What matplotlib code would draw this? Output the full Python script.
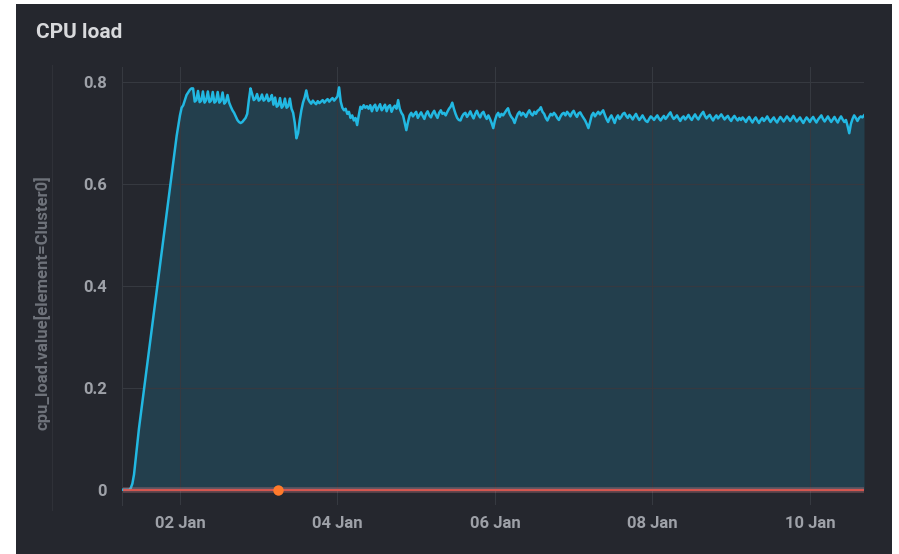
import matplotlib
matplotlib.use("Agg")
import matplotlib.pyplot as plt
from matplotlib.patches import Rectangle
from matplotlib.lines import Line2D
import pandas as pd
import numpy as np

plt.rcParams['font.family'] = ['Roboto', 'DejaVu Sans']

# ---- data (30-minute samples starting 01 Jan 06:30) ----
start_time = "2024-01-01 06:30"
sample_freq = "30min"

ramp = [0, 0, 0, 0, 0, 0.003, 0.012, 0.03, 0.06, 0.09, 0.12, 0.145, 0.17, 0.195, 0.22,
        0.245, 0.27, 0.295, 0.32, 0.345, 0.37, 0.395, 0.42, 0.445, 0.47, 0.495, 0.52,
        0.545, 0.57, 0.595, 0.62, 0.645, 0.67, 0.695, 0.715, 0.735, 0.75, 0.755, 0.765,
        0.775, 0.78, 0.785, 0.788]
plateau1 = [0.788, 0.762, 0.765, 0.783, 0.761, 0.764, 0.782, 0.76, 0.765, 0.782, 0.761,
            0.764, 0.781, 0.76, 0.763, 0.781, 0.76, 0.764, 0.78, 0.758, 0.762, 0.775]
dip1 = [0.76, 0.752, 0.745, 0.74, 0.733, 0.726, 0.722, 0.72, 0.722, 0.726, 0.73, 0.738,
        0.765, 0.788]
plateau2a = [0.777, 0.765, 0.768, 0.777, 0.764, 0.767, 0.776, 0.764, 0.767, 0.776, 0.763,
             0.766, 0.775]
plateau2b = [0.756, 0.77, 0.752, 0.755, 0.769, 0.75, 0.754, 0.768, 0.75, 0.753, 0.768,
             0.748, 0.74]
dip2 = [0.72, 0.69, 0.7, 0.725, 0.745, 0.76, 0.77, 0.784, 0.768]
plateau3 = [0.762, 0.758, 0.764, 0.76, 0.757, 0.763, 0.759, 0.762, 0.765, 0.76, 0.764,
            0.767, 0.762, 0.766, 0.769, 0.764, 0.768, 0.772]
drop3 = [0.79, 0.762, 0.75, 0.745, 0.748, 0.738, 0.742, 0.73, 0.735, 0.725, 0.73, 0.716,
         0.735, 0.752, 0.748, 0.755, 0.75, 0.753, 0.748]
day4 = [0.755, 0.743, 0.752, 0.756, 0.744, 0.751, 0.757, 0.745, 0.75, 0.756, 0.743, 0.752,
        0.755, 0.742, 0.75, 0.754, 0.748]
dip4 = [0.765, 0.748, 0.74, 0.735, 0.72, 0.706, 0.722, 0.735]
day5a = [0.74, 0.733, 0.738, 0.742, 0.73, 0.736, 0.741, 0.734, 0.728, 0.738, 0.743, 0.735,
         0.731, 0.739, 0.744, 0.736, 0.73, 0.74, 0.745, 0.738]
day5b = [0.74, 0.735, 0.742, 0.748, 0.752, 0.76, 0.748, 0.738, 0.73, 0.726, 0.725, 0.733,
         0.738]
day5c = [0.74, 0.732, 0.737, 0.743, 0.735, 0.729, 0.738, 0.744, 0.736, 0.731, 0.739, 0.742,
         0.734, 0.728, 0.735, 0.728, 0.72]
day6a = [0.71, 0.725, 0.735, 0.74, 0.732, 0.738, 0.735, 0.74, 0.745, 0.749, 0.738, 0.732,
         0.728, 0.72, 0.73]
day6b = [0.738, 0.742, 0.735, 0.74, 0.737, 0.732, 0.74, 0.745, 0.738, 0.735, 0.742, 0.738,
         0.744, 0.746]
day6c = [0.751, 0.742, 0.738, 0.73, 0.725, 0.732, 0.738, 0.735, 0.74, 0.736, 0.73, 0.726,
         0.733, 0.738]
day7a = [0.74, 0.735, 0.742, 0.738, 0.733, 0.74, 0.744, 0.737, 0.732, 0.739, 0.741, 0.735,
         0.73, 0.725, 0.718]
day7b = [0.71, 0.722, 0.735, 0.74, 0.733, 0.738, 0.742, 0.737, 0.741, 0.745, 0.736, 0.728,
         0.722, 0.73, 0.735]
days8_9 = [0.728, 0.72, 0.73, 0.735, 0.728, 0.732, 0.738, 0.74, 0.734, 0.73,
           0.736, 0.732, 0.727, 0.733, 0.738, 0.731, 0.726, 0.73, 0.735, 0.729,
           0.724, 0.722, 0.728, 0.733, 0.73, 0.726, 0.731, 0.735, 0.729, 0.725,
           0.73, 0.734, 0.728, 0.732, 0.737, 0.741, 0.733, 0.728, 0.731, 0.735,
           0.729, 0.724, 0.73, 0.733, 0.727, 0.731, 0.736, 0.73, 0.726, 0.732,
           0.737, 0.731, 0.727, 0.733, 0.738, 0.742, 0.734, 0.729, 0.733, 0.736,
           0.73, 0.725, 0.731, 0.735, 0.729, 0.733, 0.737, 0.732, 0.727, 0.731,
           0.734, 0.728, 0.724, 0.73, 0.734, 0.729, 0.725, 0.73]
days9_10 = [0.726, 0.731, 0.727, 0.722, 0.728, 0.732, 0.726, 0.721, 0.727, 0.731,
            0.725, 0.72, 0.726, 0.73, 0.724, 0.728, 0.733, 0.727, 0.722, 0.727,
            0.731, 0.725, 0.721, 0.727, 0.732, 0.728, 0.723, 0.728, 0.733, 0.729,
            0.724, 0.729, 0.734, 0.728, 0.723, 0.727, 0.731, 0.725, 0.72, 0.726,
            0.731, 0.727, 0.722, 0.728, 0.732, 0.726, 0.721, 0.727, 0.731, 0.735,
            0.728, 0.723, 0.728, 0.733, 0.727, 0.722, 0.727, 0.732, 0.726, 0.721,
            0.728, 0.733, 0.727, 0.722, 0.726, 0.714, 0.70, 0.718, 0.728, 0.735,
            0.73, 0.724, 0.73, 0.733, 0.731, 0.735]

cpu_load = (ramp + plateau1 + dip1 + plateau2a + plateau2b + dip2 + plateau3 + drop3 +
            day4 + dip4 + day5a + day5b + day5c + day6a + day6b + day6c + day7a + day7b +
            days8_9 + days9_10)
threshold_value = 0.0
annotation_time = "2024-01-03 06:00"
annotation_value = 0.0

y_ticks = [0, 0.2, 0.4, 0.6, 0.8]
y_tick_labels = ["0", "0.2", "0.4", "0.6", "0.8"]
x_tick_dates = ["2024-01-02", "2024-01-04", "2024-01-06", "2024-01-08", "2024-01-10"]
x_tick_labels = ["02 Jan", "04 Jan", "06 Jan", "08 Jan", "10 Jan"]

times = pd.date_range(start_time, periods=len(cpu_load), freq=sample_freq)
values = np.array(cpu_load)

# ---- style ----
BG = "#25272e"
LINE = "#22b8e2"
FILL = "#233f4d"
GRID = "#363940"
TICK = "#9ea1a8"

fig = plt.figure(figsize=(8.99, 5.54), dpi=100)
fig.patch.set_facecolor("white")
fig.patches.append(Rectangle((16 / 899, 0), (892 - 16) / 899, 1 - 4 / 554,
                             transform=fig.transFigure, facecolor=BG, edgecolor="none",
                             zorder=-10))

ax = fig.add_axes([122 / 899, 1 - 505 / 554, (864 - 122) / 899, (505 - 67) / 554])
ax.set_facecolor(BG)

ax.fill_between(times, values, 0, color=FILL, linewidth=0, zorder=1)
ax.plot(times, values, color=LINE, linewidth=1.8, zorder=3)

# threshold series at zero with a soft glow
thr = np.full(len(times), threshold_value)
ax.plot(times, thr, color="#d9828a", linewidth=4, alpha=0.35, zorder=4,
        solid_capstyle="butt")
ax.plot(times, thr, color="#e0574f", linewidth=1.3, zorder=5, solid_capstyle="butt")
ax.plot([pd.Timestamp(annotation_time)], [annotation_value], "o", color="#ff7a2b",
        markersize=7.5, markeredgewidth=0, zorder=6)

ax.set_xlim(times[0] - pd.Timedelta(minutes=10), times[-1])
ax.set_ylim(-0.03, 0.83)

ax.set_yticks(y_ticks)
ax.set_yticklabels(y_tick_labels)
ax.set_xticks([pd.Timestamp(d) for d in x_tick_dates])
ax.set_xticklabels(x_tick_labels)

ax.grid(True, color=GRID, linewidth=0.8, zorder=2)
ax.set_axisbelow(False)
for ln in ax.get_xgridlines() + ax.get_ygridlines():
    ln.set_zorder(2)

for s in ["top", "right", "bottom"]:
    ax.spines[s].set_visible(False)
ax.spines["left"].set_color(GRID)
ax.spines["left"].set_linewidth(0.8)

ax.tick_params(axis="both", length=0, colors=TICK, labelsize=12)
ax.tick_params(axis="y", pad=11)
ax.tick_params(axis="x", pad=8)
for lab in ax.get_xticklabels() + ax.get_yticklabels():
    lab.set_fontweight("bold")
    lab.set_color(TICK)

# y label
fig.text(42 / 899, 1 - 303 / 554, "cpu_load.value[element=Cluster0]", rotation=90,
         ha="center", va="center", color="#6f737b", fontsize=12, fontweight="bold")
# faint separator line left of plot
fig.lines.append(Line2D([52 / 899, 52 / 899], [1 - 510 / 554, 1 - 65 / 554],
                        transform=fig.transFigure, color="#2f3138", linewidth=0.8))

# title
fig.text(36 / 899, 1 - 32 / 554, "CPU load", ha="left", va="center", color="#d8d9dc",
         fontsize=15, fontweight="bold")

fig.savefig("out.png", dpi=100, facecolor=fig.get_facecolor())
